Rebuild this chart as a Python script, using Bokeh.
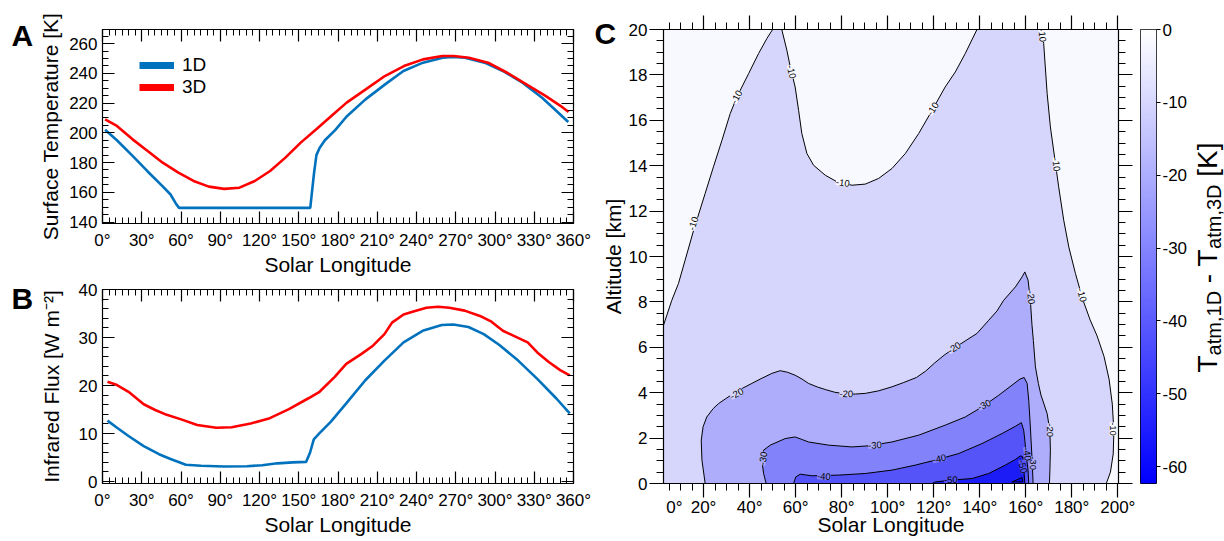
import numpy as np
from bokeh.plotting import figure
from bokeh.layouts import row, column
from bokeh.models import (LinearAxis, FixedTicker, PrintfTickFormatter, CustomJSTickFormatter,
                          Legend, LegendItem, ColumnDataSource, LinearColorMapper, Range1d)
from bokeh.embed import file_html
from bokeh.resources import INLINE
from bokeh.core.properties import value

FONT = "Liberation Sans"
BLUE = "#0072BD"
RED = "#FF0000"

# ---------------- Panel A: surface temperature ----------------
lsA_1d = [2, 11, 23, 34.5, 46, 52, 56, 58.5, 90, 120, 150, 158.8, 161.7, 163.5, 166, 170, 178, 186.6,
          201, 216, 230, 245, 260, 268, 277, 292, 306, 321, 336, 347, 356]
tA_1d = [202, 195, 184.5, 174, 164, 158.5, 152.5, 149.5, 149.5, 149.5, 149.5, 149.5, 173, 185, 190, 195,
         202, 211, 222.5, 232.6, 241.6, 247.2, 250.5, 251.0, 250.5, 247.2, 241.6, 233.7, 223.6, 214.7, 207.3]
lsA_3d = [2, 11, 23, 34.5, 46, 58, 69.6, 81.3, 93, 104.7, 116.4, 128.1, 139.8, 151.5, 163.2, 174.9, 186.6,
          201.2, 215.8, 230.4, 245, 259.7, 268.4, 280.1, 294.7, 309.3, 324, 338.6, 350.3, 356.2]
tA_3d = [209.1, 204.6, 195.6, 187.8, 179.9, 173.2, 167.6, 163.8, 162.3, 163.1, 167.6, 174.3, 183.3, 193.4,
         202.3, 211.3, 220.3, 229.2, 238.2, 244.9, 249.4, 251.7, 251.7, 250.5, 247.2, 240.4, 232.6, 224.8,
         218.0, 214.0]

# ---------------- Panel B: infrared flux ----------------
lsB_1d = [3.8, 11.1, 19.9, 31.5, 43.2, 52, 63.7, 75.3, 92.9, 110.4, 122.1, 133.7, 145.4, 155.6, 158.6, 161.5,
          165.9, 174.6, 186.3, 200.9, 215.5, 230.1, 244.7, 259.3, 268.1, 279.7, 291.4, 303.1, 317.7, 332.3,
          346.9, 357.1]
fB_1d = [12.7, 11.2, 9.5, 7.4, 5.7, 4.7, 3.5, 3.3, 3.15, 3.2, 3.4, 3.8, 4.0, 4.1, 6.0, 8.8, 10.1, 12.5, 16.3,
         21.1, 25.2, 29.0, 31.4, 32.6, 32.7, 32.2, 30.7, 28.5, 25.2, 21.4, 17.3, 14.2]
lsB_3d = [3.8, 11.1, 19.9, 31.5, 40.3, 49.1, 60.7, 72.4, 87, 98.7, 113.3, 127.9, 142.5, 157.1, 165.9, 177.5,
          186.3, 198, 206.7, 215.5, 221.3, 230.1, 238.9, 247.6, 256.4, 265.1, 276.8, 288.5, 297.3, 306,
          314.8, 325, 332.3, 341.1, 349.8, 357.1]
fB_3d = [20.8, 20.1, 18.7, 16.1, 14.9, 13.9, 12.9, 11.8, 11.2, 11.3, 12.1, 13.2, 15.1, 17.3, 18.7, 21.8,
         24.5, 26.6, 28.3, 30.7, 33.1, 34.8, 35.5, 36.2, 36.4, 36.2, 35.6, 34.5, 33.3, 31.4, 30.3, 29.0,
         26.9, 24.9, 23.2, 22.1]

# ---------------- Panel C: contour boundaries (Ls [deg], altitude [km]) ----------------
c10_ls = [-2, -2, 2.6, 6.2, 9.1, 12.0, 15.7, 20.7, 24.3, 28.0, 31.6, 34.5, 39.6, 43.9, 47.5, 50.0, 51, 53,
          54.0, 56.2, 57.7, 59.8, 61.3, 62.7, 64.9, 67.8, 72.9, 78.0, 84.5, 90.3, 96.1, 101.9, 107.7,
          113.5, 119.3, 125.0, 129.4, 133.7, 138.8, 139.5, 167, 167.4, 167.8, 169.3, 170.7, 172.9, 174.3,
          176.5, 178.7, 181.6, 184.8, 188, 191, 194, 196.2, 197.6, 198.3, 198.0, 196.8, 195, 195]
c10_km = [-1, 5.8, 6.97, 8.07, 8.81, 9.84, 11.16, 12.78, 13.95, 15.12, 16.30, 17.03, 18.06, 18.94, 19.6,
          20.0, 21, 21, 20.0, 19.09, 18.35, 17.47, 16.44, 15.42, 14.54, 14.02, 13.58, 13.29, 13.14, 13.19,
          13.44, 13.88, 14.54, 15.42, 16.44, 17.47, 18.13, 18.94, 20.0, 21, 21, 20.0, 19.38, 17.18, 15.71,
          14.10, 13.07, 11.60, 10.42, 9.25, 8.1, 7.2, 6.5, 5.6, 4.6, 3.5, 2.3, 1.3, 0.5, 0, -1]
c20_ls = [20.7, 20.7, 19.3, 19.0, 19.8, 21.4, 24.2, 26.5, 29.4, 33.0, 37, 41.0, 45, 49.7, 53.3, 56.5, 59.8,
          62.8, 65.6, 69.5, 72.9, 77, 81.6, 86, 90.3, 96, 101.9, 107, 112.5, 116.5, 120.3, 124.5, 128.7,
          134, 138.8, 143.9, 147.5, 150.4, 155.5, 158.4, 159.6, 161.0, 162.0, 162.7, 163.3, 164.2, 165.5,
          166.6, 169.3, 170.5, 170.7, 170.5, 170.3, 170.3]
c20_km = [-1, 0, 1.03, 1.91, 2.5, 2.93, 3.3, 3.52, 3.72, 3.96, 4.2, 4.41, 4.62, 4.85, 4.97, 4.9, 4.77, 4.6,
          4.41, 4.25, 4.14, 4.02, 3.95, 3.94, 3.97, 4.08, 4.26, 4.45, 4.67, 4.95, 5.3, 5.65, 5.95, 6.3,
          6.61, 7.19, 7.6, 8.07, 8.66, 9.10, 9.32, 8.96, 8.07, 7.0, 6.3, 5.14, 4.4, 3.9, 3.08, 2.3, 1.47,
          0.6, 0, -1]
c30_ls = [47.2, 47.2, 46.1, 45.3, 46.1, 49.0, 55.5, 59.8, 62.5, 65.6, 74.3, 84.5, 91.7, 101.9, 113.5, 125.0,
          133.7, 141.0, 148.3, 154.0, 157.5, 159.3, 160.6, 161.3, 162.0, 162.7, 163.2, 163.2]
c30_km = [-1, 0, 0.44, 1.03, 1.47, 1.69, 1.98, 2.05, 1.95, 1.83, 1.69, 1.61, 1.66, 1.83, 2.13, 2.57, 2.93,
          3.37, 3.89, 4.33, 4.6, 4.67, 4.41, 3.67, 2.49, 1.17, 0, -1]
c40_ls = [59.1, 59.1, 60.1, 62.0, 67.1, 78.7, 90.3, 101.9, 112.0, 120.7, 130.9, 141.0, 149.7, 155.5, 158.1,
          159.1, 159.6, 160.1, 161.0, 161.3, 161.3]
c40_km = [-1, 0, 0.29, 0.41, 0.34, 0.37, 0.44, 0.59, 0.81, 1.03, 1.32, 1.76, 2.20, 2.52, 2.68, 2.35, 1.91,
          1.32, 0.59, 0, -1]
c50_ls = [119.3, 119.3, 120.7, 128.0, 136.7, 143.9, 151.1, 155.5, 157.7, 158.7, 159.1, 159.6, 159.6]
c50_km = [-1, 0, 0.07, 0.15, 0.22, 0.44, 0.81, 1.06, 1.22, 1.17, 0.73, 0, -1]
c60_ls = [154.0, 158.4, 158.7]
c60_km = [0.07, 0.26, 0.07]

lab_ls = [15.7, 34.5, 58.1, 80.5, 119.7, 167.1, 173.2, 184.3, 197.8,
          34.5, 82.0, 129.0, 162.2, 170.7,
          46.0, 94.5, 142.0, 163.0,
          72.3, 122.5, 160.5,
          127.5, 158.6]
lab_km = [11.45, 17.03, 18.13, 13.24, 16.5, 19.75, 14.05, 8.3, 2.4,
          3.95, 3.94, 5.97, 8.2, 2.35,
          1.1, 1.68, 3.45, 0.9,
          0.3, 1.08, 1.3,
          0.15, 0.75]
lab_txt = ["-10"] * 9 + ["-20"] * 5 + ["-30"] * 4 + ["-40"] * 3 + ["-50"] * 2
lab_ang = [72, 62, -78, -8, 58, -85, -83, -75, -90,
           28, -2, 33, -85, -90,
           80, 4, 25, -90,
           -3, 12, -82,
           2, -78]

# colour bar
cb_low, cb_high = -62.3, 0.0
cb_ticks = [-60, -50, -40, -30, -20, -10, 0]

FILL0 = "#F8F8FF"
FILLS = ["#D6D6FC", "#ADADFB", "#8282FA", "#5454F8", "#1C1CF6", "#0000FF"]
lab_bg = [FILL0] * 9 + [FILLS[0]] * 5 + [FILLS[1]] * 4 + [FILLS[2]] * 3 + [FILLS[3]] * 2

H = 540  # total page height used


def style_axis(ax, ticks, minor, fmt=None, inward=True, major_len=12, minor_len=6,
               font_size="17px", standoff=5):
    ax.ticker = FixedTicker(ticks=ticks, minor_ticks=minor)
    if fmt is None:
        ax.formatter = CustomJSTickFormatter(code="return ''")
        ax.major_label_text_font_size = "0px"
    else:
        ax.formatter = PrintfTickFormatter(format=fmt)
        ax.major_label_text_font_size = font_size
    if inward:
        ax.major_tick_in, ax.major_tick_out = major_len, 0
        ax.minor_tick_in, ax.minor_tick_out = minor_len, 0
    else:
        ax.major_tick_in, ax.major_tick_out = 0, major_len
        ax.minor_tick_in, ax.minor_tick_out = 0, minor_len
    ax.axis_line_color = "black"
    ax.axis_line_width = 1.2
    ax.major_tick_line_color = "black"
    ax.minor_tick_line_color = "black"
    ax.major_tick_line_width = 1.2
    ax.minor_tick_line_width = 1.0
    ax.major_label_text_font = FONT
    ax.major_label_text_color = "black"
    ax.major_label_standoff = standoff if fmt is not None else 0
    ax.axis_label_text_font = FONT
    ax.axis_label_text_font_style = "normal"
    ax.axis_label_text_font_size = "21px"
    ax.axis_label_text_color = "black"


def base_fig(**kw):
    p = figure(output_backend="svg", toolbar_location=None, **kw)
    p.grid.visible = False
    p.outline_line_color = "black"
    p.background_fill_color = "white"
    p.border_fill_color = "white"
    return p


def strip(w, xr, yr):
    f = figure(width=w, height=H, x_range=xr, y_range=yr, min_border=0, x_axis_location=None,
               y_axis_location=None, output_backend="svg", toolbar_location=None)
    f.grid.visible = False
    f.outline_line_color = None
    f.background_fill_color = "white"
    f.border_fill_color = "white"
    return f


# ---- A ----
pA = base_fig(frame_width=471, frame_height=194, x_range=Range1d(0, 360), y_range=Range1d(139, 269.5),
              min_border_left=64, min_border_right=20, min_border_top=29, min_border_bottom=56,
              x_axis_label="Solar Longitude", y_axis_label="Surface Temperature [K]")
# ---- B ----
pB = base_fig(frame_width=471, frame_height=194, x_range=Range1d(0, 360), y_range=Range1d(-0.4, 40),
              min_border_left=64, min_border_right=20, min_border_top=10, min_border_bottom=57,
              x_axis_label="Solar Longitude", y_axis_label="Infrared Flux [W m\u207b\u00b2]")

xt = list(range(0, 361, 30))
xm = list(range(0, 361, 5))
for p, yt, ym, ylst in [(pA, list(range(140, 261, 20)), list(range(140, 270, 5)), 4),
                        (pB, list(range(0, 41, 10)), list(range(0, 41, 2)), 13)]:
    style_axis(p.xaxis[0], xt, xm, "%d°", standoff=7)
    style_axis(p.yaxis[0], yt, ym, "%d", standoff=5)
    p.xaxis[0].axis_label_standoff = 0
    p.yaxis[0].axis_label_standoff = ylst
    top = LinearAxis()
    right = LinearAxis()
    p.add_layout(top, "above")
    p.add_layout(right, "right")
    style_axis(top, xt, xm, None)
    style_axis(right, yt, ym, None)

pA.line(lsA_1d, tA_1d, line_color=BLUE, line_width=2.6)
pA.line(lsA_3d, tA_3d, line_color=RED, line_width=2.6)
pB.line(lsB_1d, fB_1d, line_color=BLUE, line_width=2.6)
pB.line(lsB_3d, fB_3d, line_color=RED, line_width=2.6)

# legend proxies (thick swatches, no visible data)
g1 = pA.line(x=[np.nan], y=[np.nan], line_color=BLUE, line_width=7)
g2 = pA.line(x=[np.nan], y=[np.nan], line_color=RED, line_width=7)
leg = Legend(items=[LegendItem(label="1D", renderers=[g1]), LegendItem(label="3D", renderers=[g2])],
             location=(37, 125), padding=0, margin=0, spacing=0, glyph_width=35, glyph_height=18,
             label_height=18, label_standoff=8, label_text_font=FONT, label_text_font_size="19px",
             label_text_color="black", border_line_alpha=0, background_fill_alpha=0)
pA.add_layout(leg)

# ---- letter strip for A and B (pixel coordinates) ----
fL = strip(36, Range1d(0, 36), Range1d(0, H))
fL.text(x=[11, 11], y=[H - 35, H - 298], text=["A", "B"], text_font=value(FONT), text_font_size="30px",
        text_font_style="bold", text_baseline="alphabetic", text_align="left", text_color="black")

# ---- C ----
C_TOP, C_FH, C_BOT = 29, 454, H - 29 - 454
pC = base_fig(frame_width=455, frame_height=C_FH, x_range=Range1d(2.6, 200.3), y_range=Range1d(0, 20),
              min_border_left=14, min_border_right=20, min_border_top=C_TOP, min_border_bottom=C_BOT)
pC.background_fill_color = FILL0
cxt = list(range(20, 201, 20))
cxm = list(range(0, 201, 5))
cyt = list(range(0, 21, 2))
cym = [i * 0.5 for i in range(0, 41)]
style_axis(pC.xaxis[0], cxt, cxm, None, inward=False, major_len=14, minor_len=7)
style_axis(pC.yaxis[0], cyt, cym, None, inward=False, major_len=14, minor_len=7)
# label-only bottom axis (the reference prints its "0°" label a little inside the frame)
xlab = LinearAxis(axis_label="Solar Longitude")
pC.add_layout(xlab, "below")
style_axis(xlab, [7.3] + cxt, [], "%d°", inward=False, major_len=0, minor_len=0, standoff=0)
xlab.formatter = CustomJSTickFormatter(code="return (tick < 10 ? 0 : Math.round(tick)) + '°'")
xlab.axis_line_color = None
xlab.axis_label_standoff = -7
topC = LinearAxis()
rightC = LinearAxis()
pC.add_layout(topC, "above")
pC.add_layout(rightC, "right")
style_axis(topC, cxt, cxm, None, inward=False, major_len=14, minor_len=7)
style_axis(rightC, cyt, cym, None, inward=False, major_len=14, minor_len=7)

for (xs, ys), col in zip([(c10_ls, c10_km), (c20_ls, c20_km), (c30_ls, c30_km), (c40_ls, c40_km),
                          (c50_ls, c50_km), (c60_ls, c60_km)], FILLS):
    pC.patch(xs, ys, fill_color=col, line_color="black", line_width=1.0)

src = ColumnDataSource(dict(x=lab_ls, y=lab_km, t=lab_txt, a=lab_ang, bg=lab_bg))
pC.text("x", "y", text="t", angle="a", angle_units="deg", source=src, text_font=value(FONT),
        text_font_size="9.5px", text_color="black", text_align="center", text_baseline="middle",
        background_fill_color="bg")

# ---- strip left of C: y tick labels, axis title and letter (same km scale as panel C) ----
ppk = C_FH / 20.0
fCy = strip(56, Range1d(0, 56), Range1d(-C_BOT / ppk, 20 + C_TOP / ppk))
fCy.text(x=[54] * len(cyt), y=cyt, text=[str(v) for v in cyt], text_font=value(FONT), text_font_size="17px",
         text_align="right", text_baseline="middle", text_color="black")
fCy.text(x=[20], y=[10], text=["Altitude [km]"], angle=np.pi / 2, text_font=value(FONT),
         text_font_size="21px", text_align="center", text_baseline="middle", text_color="black")
fCy.text(x=[1], y=[(C_FH + C_TOP - 33) / ppk], text=["C"], text_font=value(FONT), text_font_size="30px",
         text_font_style="bold", text_align="left", text_baseline="alphabetic", text_color="black")

# ---- colour bar ----
pCB = base_fig(frame_width=16, frame_height=C_FH, x_range=Range1d(0, 1), y_range=Range1d(cb_low, cb_high),
               min_border_left=2, min_border_right=32, min_border_top=C_TOP, min_border_bottom=C_BOT,
               x_axis_location=None, y_axis_location="right")
palette = ["#%02x%02xff" % (v, v) for v in range(256)]
mapper = LinearColorMapper(palette=palette, low=cb_low, high=cb_high)
grad = np.linspace(cb_low, cb_high, 400).reshape(-1, 1)
pCB.image(image=[grad], x=0, y=cb_low, dw=1, dh=cb_high - cb_low, color_mapper=mapper)
style_axis(pCB.yaxis[0], cb_ticks, [], "%d", inward=False, major_len=4, minor_len=0, standoff=2)
pCB.yaxis[0].axis_line_color = None

# ---- colour-bar title strip:  T_atm,1D - T_atm,3D [K]  (rotated) ----
fT = strip(36, Range1d(0, 36), Range1d(0, H))
BIG, SUB = 28, 20
part_txt = ["T", "atm,1D", "- T", "atm,3D", "[K]"]
part_fs = [BIG, SUB, BIG, SUB, BIG]
part_x = [16.5, 23, 16.5, 23, 16.5]
part_adv = [0.611 * BIG, 3.223 * SUB + 0.278 * BIG, 1.222 * BIG, 3.223 * SUB + 0.278 * BIG, 0]
yy = 168.0
for txt, fs, xx, adv in zip(part_txt, part_fs, part_x, part_adv):
    fT.text(x=[xx], y=[yy], text=[txt], angle=np.pi / 2, text_font=value(FONT), text_font_size=f"{fs}px",
            text_align="left", text_baseline="middle", text_color="black")
    yy += adv

layout = row(column(fL), column(pA, pB), column(fCy), pC, pCB, column(fT))
open("out.html", "w").write(file_html(layout, INLINE))
